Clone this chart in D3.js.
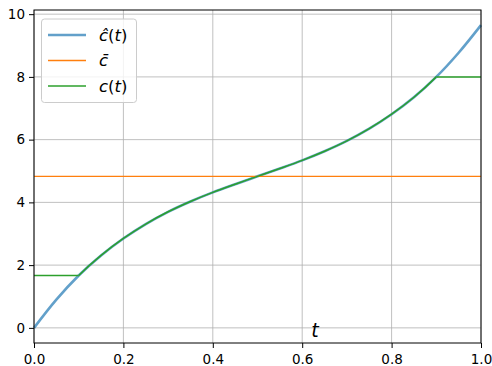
<!DOCTYPE html>
<html>
<head>
<meta charset="utf-8">
<script src="https://cdn.jsdelivr.net/npm/d3@7"></script>
<style>
  body { margin: 0; background: #fff; }
  text { font-family: "DejaVu Sans", sans-serif; }
</style>
</head>
<body>
<div class="plot"></div>
<script>
// values
const tValues = [0, 0.05, 0.1, 0.15, 0.2, 0.25, 0.3, 0.35, 0.4, 0.45, 0.5,
                 0.55, 0.6, 0.65, 0.7, 0.75, 0.8, 0.85, 0.9, 0.95, 1.0];
const cHatValues = [0.0, 0.90, 1.67, 2.31, 2.85, 3.31, 3.70, 4.03, 4.32, 4.58, 4.83,
                    5.08, 5.34, 5.63, 5.96, 6.35, 6.81, 7.35, 8.0, 8.77, 9.65];
const cBar = 4.83;
const cLow = 1.67;
const cHigh = 8.0;
const tLow = 0.1;
const tHigh = 0.9;
const xTicks = [0, 0.2, 0.4, 0.6, 0.8, 1.0];
const yTicks = [0, 2, 4, 6, 8, 10];

const width = 492;
const height = 366;
const margin = {left: 34, right: 11, top: 10, bottom: 23};

const svg = d3.select('.plot')
  .append('svg')
  .attr('width', width)
  .attr('height', height);

const x = d3.scaleLinear()
  .domain([0, 1])
  .range([margin.left, width - margin.right]);

const yPad = 0.05 * (d3.max(cHatValues) - d3.min(cHatValues));
const y = d3.scaleLinear()
  .domain([d3.min(cHatValues) - yPad, d3.max(cHatValues) + yPad])
  .range([height - margin.bottom, margin.top]);

// grid
svg.append('g')
  .selectAll('line')
  .data(xTicks)
  .enter()
  .append('line')
  .attr('x1', d => x(d)).attr('x2', d => x(d))
  .attr('y1', margin.top).attr('y2', height - margin.bottom)
  .attr('stroke', '#b0b0b0')
  .attr('stroke-width', 0.8);

svg.append('g')
  .selectAll('line')
  .data(yTicks)
  .enter()
  .append('line')
  .attr('x1', margin.left).attr('x2', width - margin.right)
  .attr('y1', d => y(d)).attr('y2', d => y(d))
  .attr('stroke', '#b0b0b0')
  .attr('stroke-width', 0.8);

const hat = tValues.map((t, i) => [t, cHatValues[i]]);

const line = d3.line()
  .x(d => x(d[0]))
  .y(d => y(d[1]))
  .curve(d3.curveCatmullRom.alpha(0.5));

svg.append('clipPath')
  .attr('id', 'mid')
  .append('rect')
  .attr('x', x(tLow)).attr('y', 0)
  .attr('width', x(tHigh) - x(tLow))
  .attr('height', height);

svg.append('path')
  .datum(hat)
  .attr('d', line)
  .attr('fill', 'none')
  .attr('stroke', '#1f77b4')
  .attr('stroke-opacity', 0.7)
  .attr('stroke-width', 2.6);

svg.append('line')
  .attr('x1', x(0)).attr('x2', x(1))
  .attr('y1', y(cBar)).attr('y2', y(cBar))
  .attr('stroke', '#ff7f0e')
  .attr('stroke-width', 1.3);

// c(t): flat below tLow, follows c-hat, flat above tHigh
svg.append('path')
  .datum(hat)
  .attr('d', line)
  .attr('clip-path', 'url(#mid)')
  .attr('fill', 'none')
  .attr('stroke', '#2ca02c')
  .attr('stroke-width', 1.5);

svg.append('g')
  .selectAll('line')
  .data([[0, tLow, cLow], [tHigh, 1, cHigh]])
  .enter()
  .append('line')
  .attr('x1', d => x(d[0])).attr('x2', d => x(d[1]))
  .attr('y1', d => y(d[2])).attr('y2', d => y(d[2]))
  .attr('stroke', '#2ca02c')
  .attr('stroke-width', 1.5);

// axes
const xAxis = svg.append('g')
  .attr('transform', `translate(0,${height - margin.bottom})`)
  .call(d3.axisBottom(x).tickValues(xTicks).tickFormat(d3.format('.1f')).tickSize(5).tickSizeOuter(0));
const yAxis = svg.append('g')
  .attr('transform', `translate(${margin.left},0)`)
  .call(d3.axisLeft(y).tickValues(yTicks).tickFormat(d3.format('d')).tickSize(5).tickSizeOuter(0));

[xAxis, yAxis].forEach(g => {
  g.select('.domain').remove();
  g.selectAll('.tick line').attr('stroke', '#000').attr('stroke-width', 1);
  g.selectAll('.tick text')
    .attr('font-family', 'DejaVu Sans')
    .attr('font-size', '13.5px')
    .attr('fill', '#000');
});
xAxis.selectAll('.tick text').attr('dy', '0.95em');
yAxis.selectAll('.tick text').attr('x', -9);

svg.append('rect')
  .attr('x', margin.left).attr('y', margin.top)
  .attr('width', width - margin.left - margin.right)
  .attr('height', height - margin.top - margin.bottom)
  .attr('fill', 'none')
  .attr('stroke', '#000')
  .attr('stroke-width', 1);

// x label
svg.append('text')
  .attr('x', 315)
  .attr('y', 336.5)
  .attr('text-anchor', 'middle')
  .attr('font-size', '19px')
  .attr('font-style', 'italic')
  .text('t');

// legend
const legend = svg.append('g');
legend.append('rect')
  .attr('x', 41.5).attr('y', 19)
  .attr('width', 95).attr('height', 83.5)
  .attr('rx', 3)
  .attr('fill', '#fff')
  .attr('fill-opacity', 0.8)
  .attr('stroke', '#cccccc')
  .attr('stroke-width', 1);

const legendItems = [
  {base: 'ĉ', arg: true, color: '#1f77b4', op: 0.7, w: 2.6},
  {base: 'c\u0304', arg: false, color: '#ff7f0e', op: 1, w: 1.3},
  {base: 'c', arg: true, color: '#2ca02c', op: 1, w: 1.5}
];

legendItems.forEach((d, i) => {
  const yy = 35 + i * 25.5;
  legend.append('line')
    .attr('x1', 48).attr('x2', 86)
    .attr('y1', yy).attr('y2', yy)
    .attr('stroke', d.color)
    .attr('stroke-opacity', d.op)
    .attr('stroke-width', d.w);
  const t = legend.append('text')
    .attr('x', 99)
    .attr('y', yy + 5.5)
    .attr('font-size', '16.5px');
  t.append('tspan').attr('font-style', 'italic').text(d.base);
  if (d.arg) {
    t.append('tspan').text('(');
    t.append('tspan').attr('font-style', 'italic').text('t');
    t.append('tspan').text(')');
  }
});
</script>
</body>
</html>
